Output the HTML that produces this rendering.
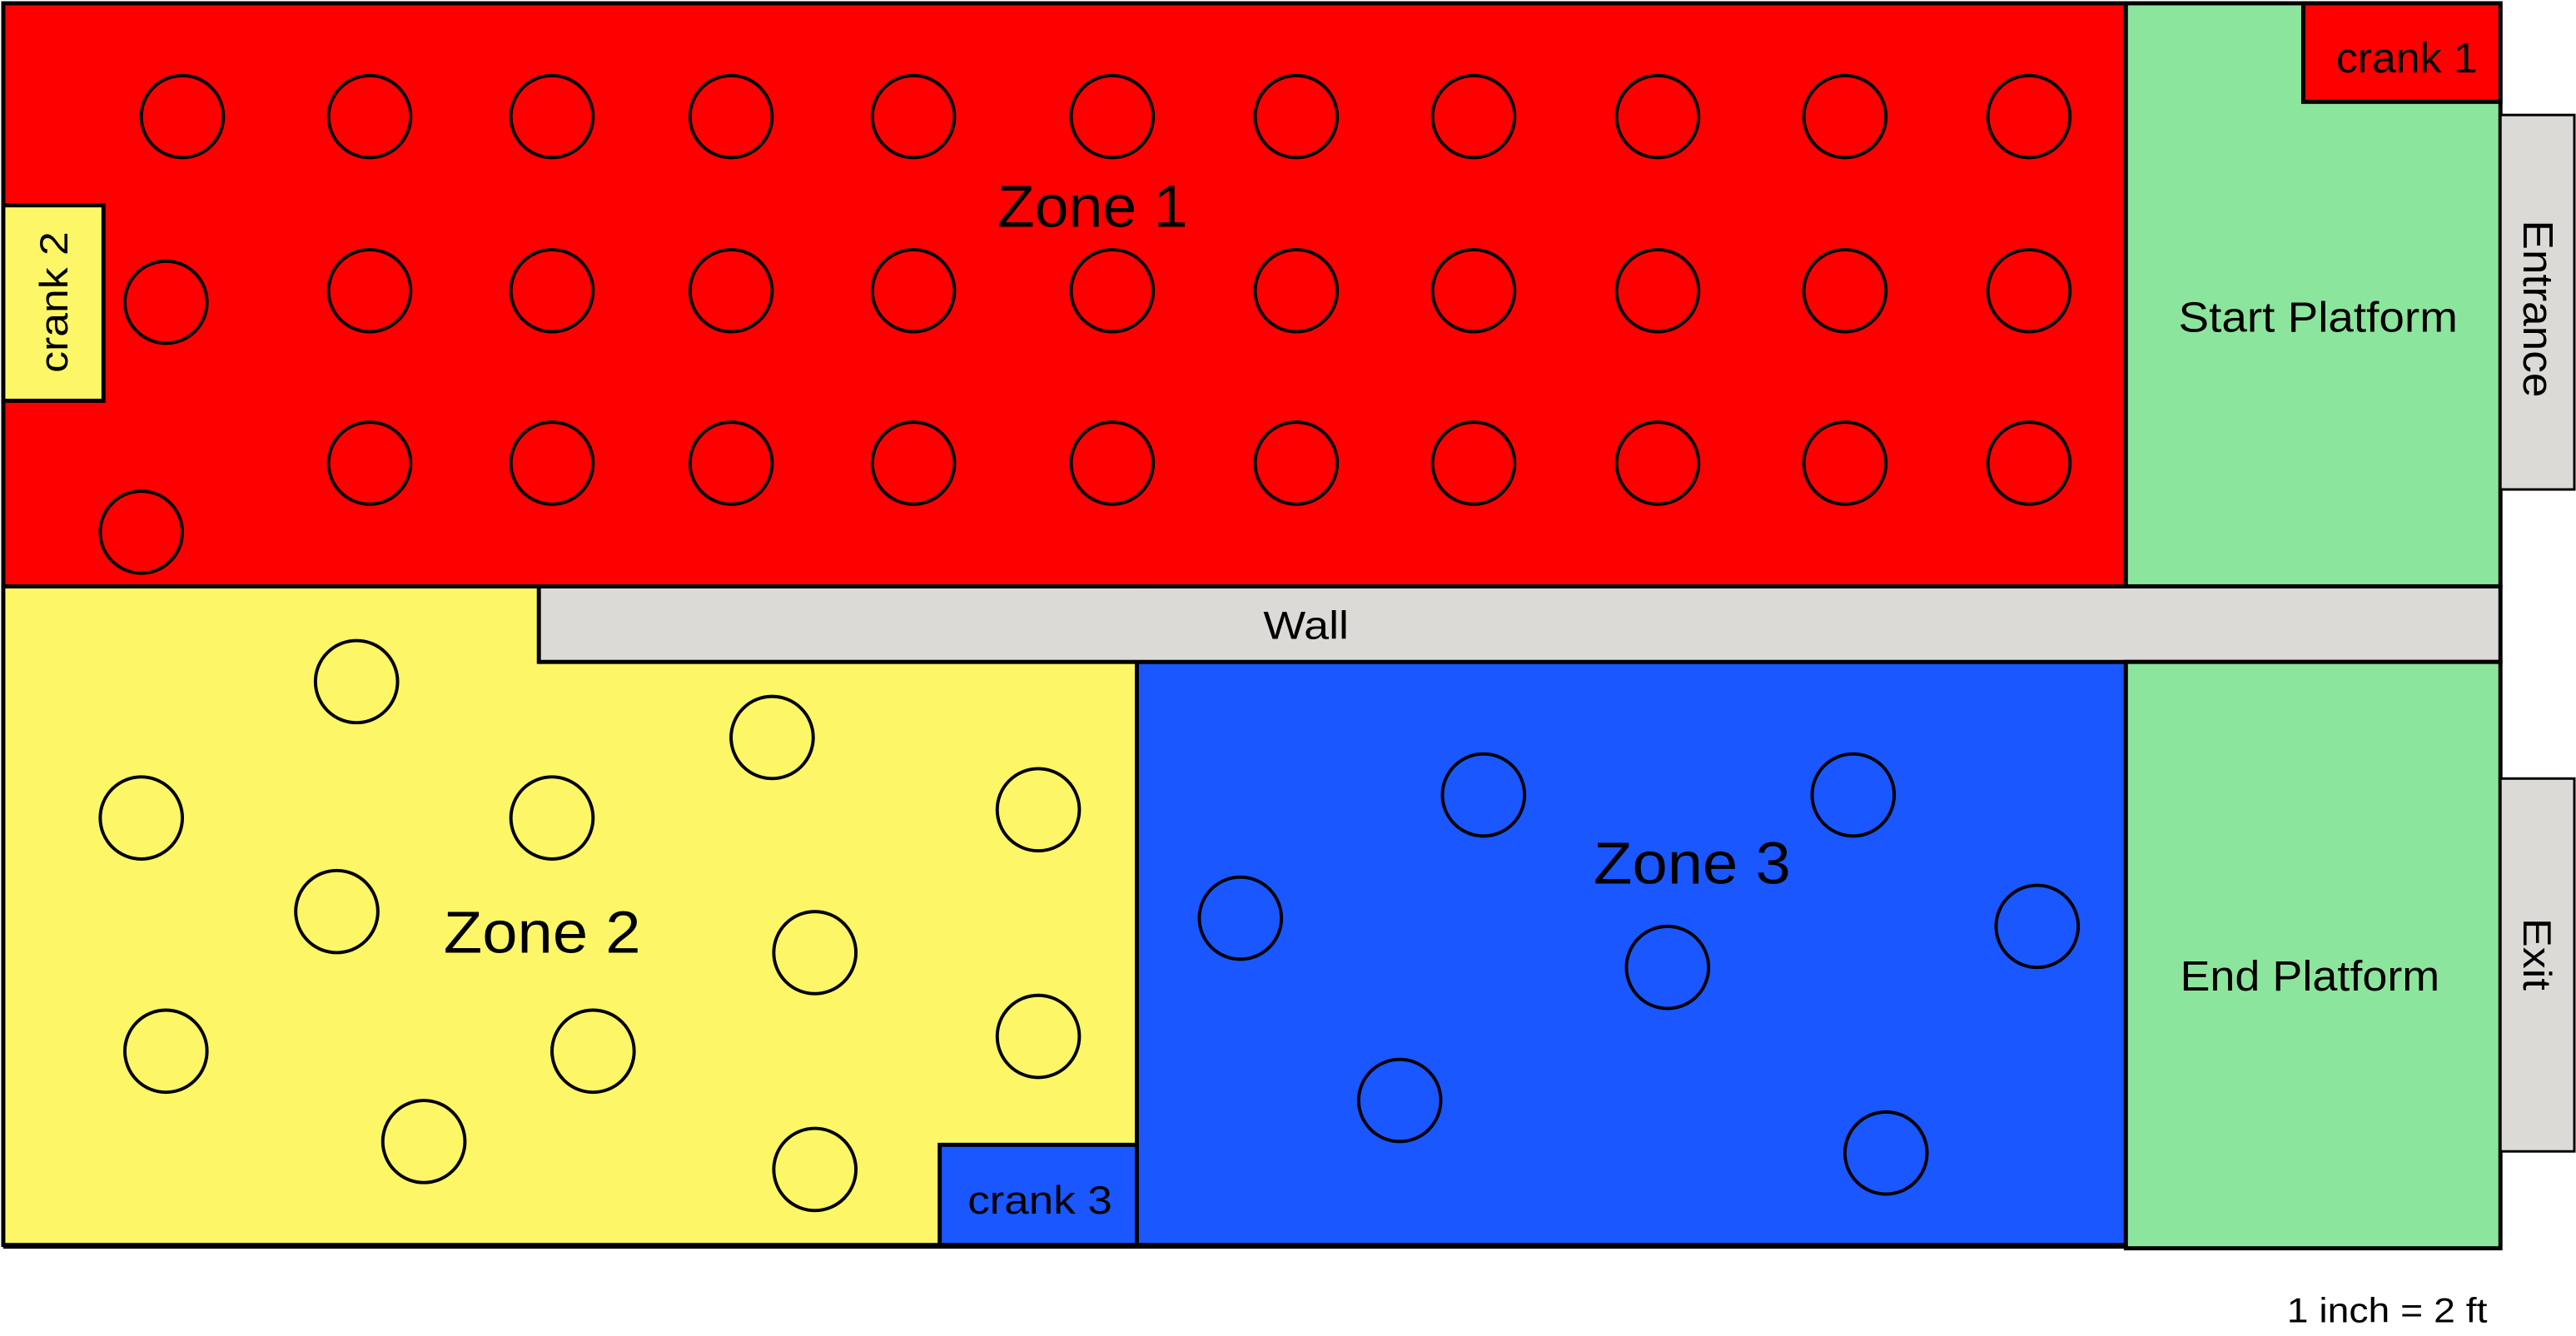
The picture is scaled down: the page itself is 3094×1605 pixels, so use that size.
<!DOCTYPE html>
<html><head><meta charset="utf-8"><style>html,body{margin:0;padding:0;background:#fff}svg{display:block}text{font-family:"Liberation Sans",sans-serif;fill:#000}</style></head>
<body>
<svg width="3094" height="1605" viewBox="0 0 1568 813.4" preserveAspectRatio="none" xmlns="http://www.w3.org/2000/svg">
<g stroke="#000" stroke-width="2.5">
<rect x="2" y="2" width="1292" height="355" fill="#ff0000"/>
<rect x="1294" y="2" width="228" height="355" fill="#8ce59c"/>
<rect x="1402" y="2" width="120" height="60" fill="#ff0000"/>
<rect x="1522" y="70" width="45" height="228" fill="#dbdad6" stroke-width="1.5"/>
<rect x="2" y="357" width="690" height="401" fill="#fdf767"/>
<rect x="692" y="403" width="602" height="355" fill="#1a57ff"/>
<rect x="328" y="357" width="1194" height="46" fill="#dbdad6"/>
<rect x="1294" y="403" width="228" height="357" fill="#8ce59c"/>
<rect x="1522" y="474" width="45" height="227" fill="#dbdad6" stroke-width="1.5"/>
<rect x="572" y="697" width="120" height="61" fill="#1a57ff"/>
<rect x="2" y="125" width="61" height="119" fill="#fdf767"/>
<line x1="2" y1="759" x2="1294" y2="759"/>
</g>
<g fill="none" stroke="#000" stroke-width="2">
<circle cx="111" cy="71" r="25"/><circle cx="225" cy="71" r="25"/><circle cx="336" cy="71" r="25"/><circle cx="445" cy="71" r="25"/><circle cx="556" cy="71" r="25"/><circle cx="677" cy="71" r="25"/><circle cx="789" cy="71" r="25"/><circle cx="897" cy="71" r="25"/><circle cx="1009" cy="71" r="25"/><circle cx="1123" cy="71" r="25"/><circle cx="1235" cy="71" r="25"/>
<circle cx="101" cy="184" r="25"/><circle cx="225" cy="177" r="25"/><circle cx="336" cy="177" r="25"/><circle cx="445" cy="177" r="25"/><circle cx="556" cy="177" r="25"/><circle cx="677" cy="177" r="25"/><circle cx="789" cy="177" r="25"/><circle cx="897" cy="177" r="25"/><circle cx="1009" cy="177" r="25"/><circle cx="1123" cy="177" r="25"/><circle cx="1235" cy="177" r="25"/>
<circle cx="86" cy="324" r="25"/><circle cx="225" cy="282" r="25"/><circle cx="336" cy="282" r="25"/><circle cx="445" cy="282" r="25"/><circle cx="556" cy="282" r="25"/><circle cx="677" cy="282" r="25"/><circle cx="789" cy="282" r="25"/><circle cx="897" cy="282" r="25"/><circle cx="1009" cy="282" r="25"/><circle cx="1123" cy="282" r="25"/><circle cx="1235" cy="282" r="25"/>
<circle cx="217" cy="415" r="25"/><circle cx="470" cy="449" r="25"/><circle cx="86" cy="498" r="25"/><circle cx="336" cy="498" r="25"/><circle cx="632" cy="493" r="25"/><circle cx="205" cy="555" r="25"/><circle cx="496" cy="580" r="25"/><circle cx="101" cy="640" r="25"/><circle cx="361" cy="640" r="25"/><circle cx="632" cy="631" r="25"/><circle cx="258" cy="695" r="25"/><circle cx="496" cy="712" r="25"/>
<circle cx="903" cy="484" r="25"/><circle cx="1128" cy="484" r="25"/><circle cx="755" cy="559" r="25"/><circle cx="1240" cy="564" r="25"/><circle cx="1015" cy="589" r="25"/><circle cx="852" cy="670" r="25"/><circle cx="1148" cy="702" r="25"/>
</g>
<text x="665" y="138" font-size="36" text-anchor="middle" textLength="116" lengthAdjust="spacingAndGlyphs">Zone 1</text>
<text x="330" y="580" font-size="36" text-anchor="middle" textLength="120" lengthAdjust="spacingAndGlyphs">Zone 2</text>
<text x="1030" y="538" font-size="36" text-anchor="middle" textLength="120" lengthAdjust="spacingAndGlyphs">Zone 3</text>
<text x="1411" y="202" font-size="26" text-anchor="middle" textLength="170" lengthAdjust="spacingAndGlyphs">Start Platform</text>
<text x="1406" y="603" font-size="26" text-anchor="middle" textLength="158" lengthAdjust="spacingAndGlyphs">End Platform</text>
<text x="1465" y="44" font-size="26" text-anchor="middle" textLength="86" lengthAdjust="spacingAndGlyphs">crank 1</text>
<text x="633" y="739" font-size="24" text-anchor="middle" textLength="88" lengthAdjust="spacingAndGlyphs">crank 3</text>
<text x="795" y="389" font-size="24" text-anchor="middle" textLength="52" lengthAdjust="spacingAndGlyphs">Wall</text>
<text transform="translate(41,184) rotate(-90)" font-size="24" text-anchor="middle" textLength="86" lengthAdjust="spacingAndGlyphs">crank 2</text>
<text transform="translate(1536,188) rotate(90)" font-size="26" text-anchor="middle" textLength="108" lengthAdjust="spacingAndGlyphs">Entrance</text>
<text transform="translate(1536,581) rotate(90)" font-size="24" text-anchor="middle" textLength="44" lengthAdjust="spacingAndGlyphs">Exit</text>
<text x="1453" y="805" font-size="21" text-anchor="middle" textLength="122" lengthAdjust="spacingAndGlyphs">1 inch = 2 ft</text>
</svg>
</body></html>
